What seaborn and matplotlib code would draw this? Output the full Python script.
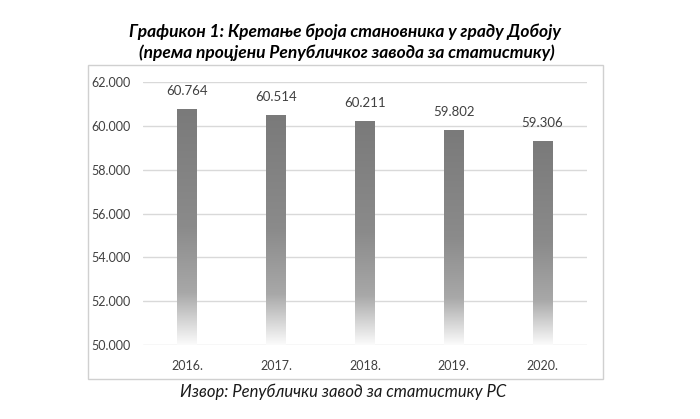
import numpy as np
import pandas as pd
import seaborn as sns
import matplotlib.pyplot as plt
from matplotlib.colors import LinearSegmentedColormap
from matplotlib.patches import Rectangle
from matplotlib.ticker import FuncFormatter

years = ["2016.", "2017.", "2018.", "2019.", "2020."]
population = [60764, 60514, 60211, 59802, 59306]
y_ticks = [50000, 52000, 54000, 56000, 58000, 60000, 62000]

title = ("Графикон 1: Кретање броја становника у граду Добоју\n"
         "(према процјени Републичког завода за статистику)")
source = "Извор: Републички завод за статистику РС"

df = pd.DataFrame({"year": years, "population": population})

sns.set_theme(style="white")
plt.rcParams["font.family"] = ["Lato", "DejaVu Sans"]

fig = plt.figure(figsize=(7, 4.19), dpi=100)
ax = fig.add_axes([143 / 700, 74 / 419, 444 / 700, 263 / 419])

sns.barplot(x="year", y="population", data=df, order=years, width=0.225,
            color="#808080", ax=ax)

ax.set_ylim(50000, 62000)
ax.set_yticks(y_ticks)
ax.yaxis.set_major_formatter(FuncFormatter(lambda v, p: f"{v:,.0f}".replace(",", ".")))
ax.grid(axis="y", color="#d9d9d9", linewidth=1)
ax.set_axisbelow(True)
for s in ax.spines.values():
    s.set_visible(False)
ax.tick_params(axis="both", length=0, labelsize=9, colors="#404040", pad=9)
ax.tick_params(axis="x", pad=11)
ax.set_xlabel("")
ax.set_ylabel("")

# gradient fill: gray on top fading to white at the bottom
cmap = LinearSegmentedColormap.from_list(
    "fade", [(0.0, "#7a7a7a"), (0.5, "#8b8b8b"), (0.78, "#a8a8a8"), (1.0, "#fbfbfb")])
grad = np.linspace(0, 1, 256).reshape(-1, 1)
for bar, val in zip(ax.patches, population):
    x0, w = bar.get_x(), bar.get_width()
    bar.set_facecolor("none")
    bar.set_edgecolor("none")
    im = ax.imshow(grad, cmap=cmap, aspect="auto", origin="upper",
                   extent=[x0, x0 + w, 50000, val], zorder=3)
    im.set_clip_path(bar)
    ax.annotate(f"{val:,.0f}".replace(",", "."), (x0 + w / 2, val),
                xytext=(0, 13), textcoords="offset points",
                ha="center", va="center", fontsize=9.5, color="#404040")
ax.set_xlim(-0.5, len(years) - 0.5)
ax.set_ylim(50000, 62000)

fig.patches.append(Rectangle((88 / 700, 40 / 419), 515 / 700, 314 / 419,
                             transform=fig.transFigure, fill=False,
                             edgecolor="#d0d0d0", linewidth=1))

lines = title.split("\n")
fig.text(0.493, 1 - 32 / 419, lines[0], ha="center", va="center",
         fontsize=12.5, fontweight="bold", fontstyle="italic", color="black")
fig.text(0.495, 1 - 53 / 419, lines[1], ha="center", va="center",
         fontsize=12.5, fontweight="bold", fontstyle="italic", color="black")
fig.text(0.49, 1 - 392 / 419, source, ha="center", va="center",
         fontsize=12, fontstyle="italic", color="#1a1a1a")

fig.savefig("out.png", dpi=100, facecolor="white")
